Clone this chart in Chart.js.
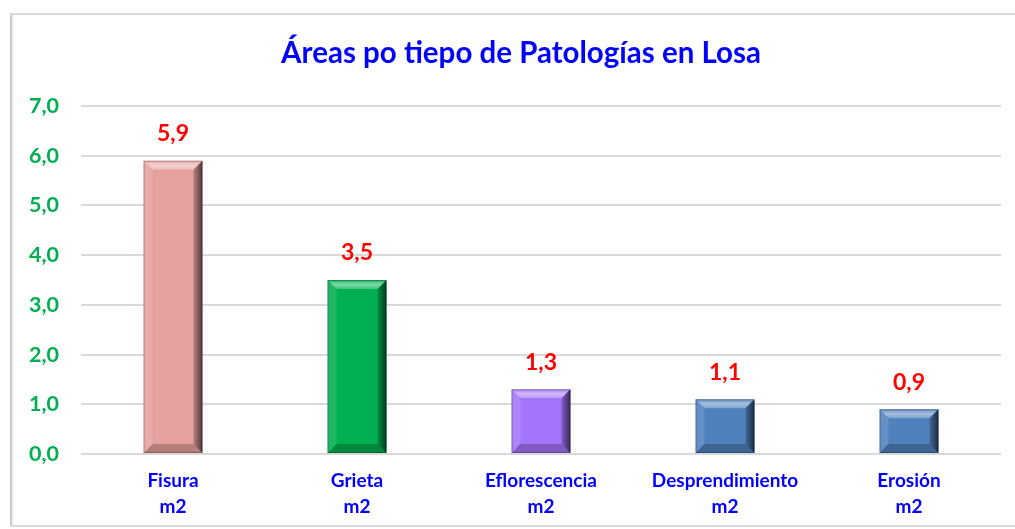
<!DOCTYPE html>
<html>
<head>
<meta charset="utf-8">
<script src="https://cdn.jsdelivr.net/npm/chart.js@4"></script>
<style>
  html, body { margin: 0; padding: 0; background: #fff; overflow: hidden; }
  #wrap { width: 1015px; height: 529px; position: relative; }
</style>
</head>
<body>
<div id="wrap"><canvas id="areasLosa"></canvas></div>
<script>
const categories = ['Fisura', 'Grieta', 'Eflorescencia', 'Desprendimiento', 'Erosión'];
const unitLabel = 'm2';
const areas = [5.9, 3.5, 1.3, 1.1, 0.9];
const barColors = ['#E6A19F', '#00B050', '#A474FA', '#4F81BD', '#4F81BD'];
const yTicks = [0, 1, 2, 3, 4, 5, 6, 7];
const chartTitle = 'Áreas po tiepo de Patologías en Losa';

function fmt(v) {
    return v.toFixed(1).replace('.', ',');
}

// marco gris del grafico + titulo
const frame = {
    id: 'frame',
    beforeDraw(chart) {
        const ctx = chart.ctx;
        ctx.save();
        ctx.fillStyle = '#fff';
        ctx.fillRect(0, 0, chart.width, chart.height);
        ctx.strokeStyle = '#d9d9d9';
        ctx.lineWidth = 2;
        ctx.beginPath();
        ctx.moveTo(11, 526);
        ctx.lineTo(11, 14);
        ctx.lineTo(1020, 14);
        ctx.moveTo(11, 526);
        ctx.lineTo(1020, 526);
        ctx.stroke();
        const g = ctx.createLinearGradient(10, 0, 15, 0);
        g.addColorStop(0, 'rgba(190,190,190,1)');
        g.addColorStop(1, 'rgba(240,240,240,0)');
        ctx.fillStyle = g;
        ctx.fillRect(10, 15, 5, 510);

        ctx.fillStyle = '#0000FF';
        ctx.font = 'bold 29.5px Lato';
        ctx.textAlign = 'center';
        ctx.textBaseline = 'middle';
        ctx.fillText(chartTitle, 521, 53);
        ctx.restore();
    }
};

// relieve de las barras + etiquetas de valor
const bevel = {
    id: 'bevel',
    afterDatasetsDraw(chart) {
        const ctx = chart.ctx;
        const meta = chart.getDatasetMeta(0);
        ctx.save();
        meta.data.forEach((bar, i) => {
            const p = bar.getProps(['x', 'y', 'base', 'width'], true);
            const L = p.x - p.width / 2, R = p.x + p.width / 2, T = p.y, B = p.base;
            const b = Math.min(9, (B - T) / 2);
            const poly = (pts, fill) => {
                ctx.beginPath();
                ctx.moveTo(pts[0][0], pts[0][1]);
                for (let k = 1; k < pts.length; k++) ctx.lineTo(pts[k][0], pts[k][1]);
                ctx.closePath();
                ctx.fillStyle = fill;
                ctx.fill();
            };
            // arriba
            const gt = ctx.createLinearGradient(0, T, 0, T + b);
            gt.addColorStop(0, 'rgba(255,255,255,0.1)');
            gt.addColorStop(0.5, 'rgba(255,255,255,0.5)');
            gt.addColorStop(1, 'rgba(255,255,255,0.25)');
            poly([[L, T], [R, T], [R - b, T + b], [L + b, T + b]], gt);
            // izquierda
            poly([[L, T], [L + b, T + b], [L + b, B - b], [L, B]], 'rgba(255,255,255,0.12)');
            // derecha
            const gr = ctx.createLinearGradient(R - b, 0, R, 0);
            gr.addColorStop(0, 'rgba(0,0,0,0.2)');
            gr.addColorStop(1, 'rgba(0,0,0,0.65)');
            poly([[R, T], [R, B], [R - b, B - b], [R - b, T + b]], gr);
            // abajo
            poly([[L, B], [R, B], [R - b, B - b], [L + b, B - b]], 'rgba(0,0,0,0.22)');
            ctx.strokeStyle = 'rgba(0,0,0,0.25)';
            ctx.lineWidth = 1;
            ctx.strokeRect(L + 0.5, T + 0.5, R - L - 1, B - T - 1);

            ctx.fillStyle = '#FF0000';
            ctx.font = 'bold 23px Lato';
            ctx.textAlign = 'center';
            ctx.textBaseline = 'middle';
            ctx.fillText(fmt(areas[i]), p.x, T - 27);
        });
        ctx.restore();
    }
};

const ctxAreas = document.getElementById('areasLosa');

const areasLosa = new Chart(ctxAreas, {
    type: 'bar',
    data: {
        labels: categories.map(c => [c, unitLabel]),
        datasets: [{
            label: 'Áreas',
            data: areas,
            backgroundColor: barColors,
            borderWidth: 0,
            barPercentage: 0.64,
            categoryPercentage: 0.5
        }]
    },
    options: {
        responsive: true,
        maintainAspectRatio: false,
        animation: false,
        layout: {
            padding: { left: 0, right: 14, top: 106, bottom: 0 }
        },
        plugins: {
            legend: { display: false },
            tooltip: { enabled: false },
            title: { display: false }
        },
        scales: {
            y: {
                min: 0,
                max: 7,
                afterBuildTicks: (scale) => {
                    scale.ticks = yTicks.map(v => ({ value: v }));
                },
                afterFit: (scale) => { scale.width = 81; },
                ticks: {
                    color: '#00B050',
                    font: { family: 'Lato', size: 21.5, weight: 'bold' },
                    padding: 22,
                    callback: (v) => fmt(v)
                },
                grid: {
                    color: '#d9d9d9',
                    lineWidth: 2,
                    drawTicks: false
                },
                border: { display: false }
            },
            x: {
                afterFit: (scale) => { scale.height = 75; },
                ticks: {
                    color: '#0000FF',
                    font: { family: 'Lato', size: 19, weight: 'bold', lineHeight: 1.37 },
                    padding: 14,
                    maxRotation: 0,
                    autoSkip: false
                },
                grid: { display: false, drawTicks: false },
                border: { display: false }
            }
        }
    },
    plugins: [frame, bevel]
});
</script>
</body>
</html>
